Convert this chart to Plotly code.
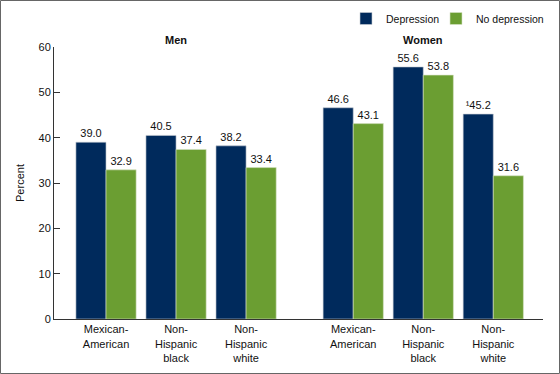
import plotly.graph_objects as go

categories = ["Mexican-<br>American", "Non-<br>Hispanic<br>black", "Non-<br>Hispanic<br>white",
              "Mexican-<br>American", "Non-<br>Hispanic<br>black", "Non-<br>Hispanic<br>white"]
positions = [0, 1, 2, 3.53, 4.53, 5.53]
depression = [39.0, 40.5, 38.2, 46.6, 55.6, 45.2]
no_depression = [32.9, 37.4, 33.4, 43.1, 53.8, 31.6]
dep_labels = ["39.0", "40.5", "38.2", "46.6", "55.6", "¹45.2"]
nodep_labels = ["32.9", "37.4", "33.4", "43.1", "53.8", "31.6"]
groups = ["Men", "Women"]
group_centers = [1, 4.53]

navy = "#002A5C"
green = "#6B9E32"
font = "Arial, Liberation Sans, sans-serif"

fig = go.Figure()
fig.add_trace(go.Bar(x=positions, y=depression, name="Depression", marker_color=navy,
                     marker_line=dict(color="#c8ccd4", width=0.6), legend="legend",
                     width=0.43, offset=-0.43, text=dep_labels, textposition="outside",
                     textfont=dict(size=11, color="#111"), cliponaxis=False))
fig.add_trace(go.Bar(x=positions, y=no_depression, name="No depression", marker_color=green,
                     marker_line=dict(color="#d6e2c6", width=0.6), legend="legend2",
                     width=0.43, offset=0, text=nodep_labels, textposition="outside",
                     textfont=dict(size=11, color="#111"), cliponaxis=False))

L, R, T, B = 54, 17, 47, 55
pw, ph = 560 - L - R, 374 - T - B


def px_x(p):
    return (p - L) / pw


def px_y(p):
    return (T + ph - p) / ph


for g, c in zip(groups, group_centers):
    fig.add_annotation(x=c, y=px_y(40), xref="x", yref="paper", text="<b>%s</b>" % g, showarrow=False,
                       font=dict(size=11, color="#111"), yanchor="middle")

fig.add_shape(type="rect", xref="paper", yref="paper",
              x0=px_x(0.5), x1=px_x(559.5), y0=px_y(373.5), y1=px_y(0.5),
              line=dict(color="#666", width=1), layer="above")

legend_style = dict(orientation="h", xanchor="left", y=px_y(4), yanchor="top",
                    font=dict(size=10.5), bgcolor="rgba(0,0,0,0)")

fig.update_layout(
    width=560, height=374,
    margin=dict(l=L, r=R, t=T, b=B, autoexpand=False),
    plot_bgcolor="white", paper_bgcolor="white",
    font=dict(family=font, size=11, color="#111"),
    showlegend=True,
    legend=dict(x=px_x(346), **legend_style),
    legend2=dict(x=px_x(436), **legend_style),
    xaxis=dict(range=[-0.743, 6.24], tickvals=positions, ticktext=categories, automargin=False,
               showline=True, linecolor="#333", linewidth=1, ticks="", showgrid=False,
               zeroline=False, tickfont=dict(size=11)),
    yaxis=dict(range=[0, 60], dtick=10, showline=True, linecolor="#333", linewidth=1, automargin=False,
               ticks="inside", ticklen=6, tickcolor="#333", showgrid=False, zeroline=False,
               title=dict(text="Percent", font=dict(size=11), standoff=11), tickfont=dict(size=11)),
)

fig.write_html("out.html", config={"displayModeBar": False},
               post_script="document.body.style.margin='0';")
